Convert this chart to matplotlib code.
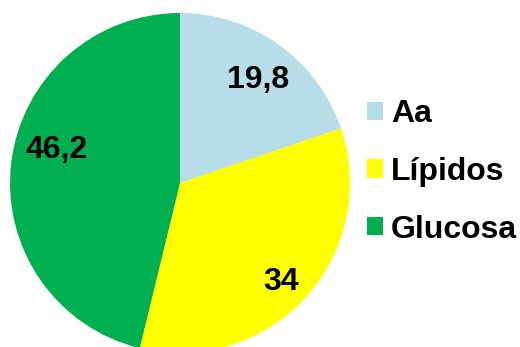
import numpy as np
import matplotlib.pyplot as plt

# energy share by substrate
labels = ['Aa', 'Lípidos', 'Glucosa']
values = [19.8, 34, 46.2]
colors = ['#B7DEE8', '#FFFF00', '#00B050']

# label placement (angle in degrees, distance as fraction of radius)
label_angles = [53, -44.5, 165]
label_dists = [0.76, 0.83, 0.75]

plt.rcParams['font.family'] = ['Liberation Sans', 'DejaVu Sans']

fig = plt.figure(figsize=(5.2, 3.47), dpi=100)
ax = fig.add_axes([0, 0, 1, 1])

cx, cy, r = 180, 164, 170
wedges, _ = ax.pie(values, colors=colors, startangle=90, counterclock=False,
                   center=(cx, cy), radius=r,
                   wedgeprops=dict(linewidth=0))
ax.set_xlim(0, 520)
ax.set_ylim(0, 347)
ax.set_aspect('equal')
ax.axis('off')

for v, a, d in zip(values, label_angles, label_dists):
    txt = ('%g' % v).replace('.', ',')
    x = cx + d * r * np.cos(np.radians(a))
    y = cy + d * r * np.sin(np.radians(a))
    ax.text(x, y, txt, ha='center', va='center', fontsize=23,
            fontweight='bold', color='black')

ax.legend(wedges, labels, loc='upper left', bbox_to_anchor=(367/520, 1 - 99/347),
          bbox_transform=fig.transFigure, frameon=False,
          prop=dict(size=23, weight='bold'), handlelength=0.5, handleheight=0.5,
          handletextpad=0.25, labelspacing=0.87, borderpad=0, borderaxespad=0)

fig.savefig('out.png', dpi=100)
